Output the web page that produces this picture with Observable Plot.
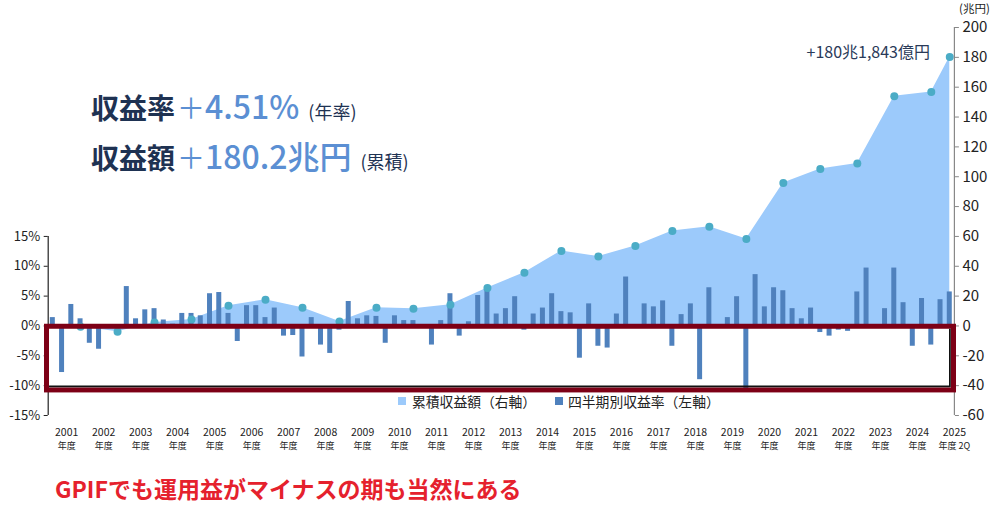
<!DOCTYPE html>
<html><head><meta charset="utf-8">
<script src="https://cdn.jsdelivr.net/npm/d3@7"></script>
<script src="https://cdn.jsdelivr.net/npm/@observablehq/plot@0.6"></script>
<style>
html,body{margin:0;padding:0;background:#fff;}
#wrap{position:relative;width:1000px;height:519px;overflow:hidden;font-family:"Noto Sans CJK JP","Noto Sans",sans-serif;}
#wrap svg{position:absolute;left:0;top:0;}
.t{position:absolute;white-space:nowrap;line-height:1.2;}
.sq{position:absolute;width:8px;height:8px;}
</style></head><body>
<div id="wrap">
  <div class="t" style="left:91px;top:86px;color:#1e3252;">
    <span style="font-size:28px;font-weight:700;">収益率</span><span style="font-size:28px;color:#5b8fd3;margin-left:2px;">＋</span><span style="font-size:32px;font-weight:500;color:#5b8fd3;">4.51%</span><span style="font-size:18px;margin-left:9px;">(年率)</span>
  </div>
  <div class="t" style="left:91px;top:136px;color:#1e3252;">
    <span style="font-size:28px;font-weight:700;">収益額</span><span style="font-size:28px;color:#5b8fd3;margin-left:2px;">＋</span><span style="font-size:32px;font-weight:500;color:#5b8fd3;">180.2兆円</span><span style="font-size:18px;margin-left:9px;">(累積)</span>
  </div>
  <div class="t" style="right:70px;top:42px;font-size:16px;color:#2a3a58;">+180兆1,843億円</div>
  <div class="t" style="left:959px;top:3px;font-size:11.5px;line-height:1;color:#222;">(兆円)</div>
  <div class="sq" style="left:398px;top:397px;background:#9ccafb;"></div>
  <div class="t" style="left:412px;top:393px;font-size:13.8px;color:#222;">累積収益額（右軸）</div>
  <div class="sq" style="left:555px;top:397px;background:#4f81bd;"></div>
  <div class="t" style="left:568px;top:393px;font-size:13.8px;color:#222;">四半期別収益率（左軸）</div>
  <div class="t" style="left:55px;top:475px;font-size:23px;font-weight:700;color:#e5212d;">GPIFでも運用益がマイナスの期も当然にある</div>
</div>
<script>
// ---- data ----
const fiscalYears = ["2001","2002","2003","2004","2005","2006","2007","2008","2009","2010","2011","2012","2013","2014","2015","2016","2017","2018","2019","2020","2021","2022","2023","2024","2025"];
const yearUnit = "年度";
const lastPeriodNote = "2Q";
// quarterly return (%), FY2001 Q1 ... FY2025 Q2
const quarterlyReturns = [
  1.4, -7.8, 3.6, 1.2,
  -2.9, -3.9, -0.3, -0.5,
  6.6, 1.2, 2.7, 2.9,
  1.0, 0.3, 2.1, 2.1,
  1.7, 5.4, 5.6, 2.1,
  -2.6, 3.4, 3.4, 1.4,
  3.0, -1.7, -1.6, -5.2,
  1.4, -3.2, -4.6, -0.7,
  4.1, 1.2, 1.7, 1.6,
  -2.9, 1.7, 0.9, 0.9,
  0.1, -3.2, 0.9, 5.4,
  -1.7, 0.7, 5.1, 6.2,
  2.0, 2.9, 4.9, -0.7,
  2.0, 3.0, 5.4, 2.4,
  2.2, -5.4, 3.7, -3.4,
  -3.7, 2.0, 8.2, 0.2,
  3.7, 3.2, 4.2, -3.4,
  1.9, 3.7, -9.0, 6.4,
  0.1, 1.4, 4.9, -10.6,
  8.6, 3.2, 6.4, 5.9,
  2.9, 1.2, 3.0, -1.1,
  -1.7, -0.7, -0.9, 5.7,
  9.7, 0.2, 2.9, 9.7,
  3.9, -3.4, 4.6, -3.2,
  4.4, 5.7
];
// cumulative return (兆円) at each fiscal year end (FY2025: 2Q)
const cumulativeReturns = [-0.6, -3.9, 2.3, 4.4, 13.5, 17.5, 12.2, 3.0, 12.2, 11.5, 14.2, 25.5, 35.6, 50.3, 46.5, 53.6, 63.7, 66.4, 58.3, 95.8, 105.1, 108.9, 154.0, 156.7, 180.18];
const rightTicks = [-60,-40,-20,0,20,40,60,80,100,120,140,160,180,200];
const leftTicksPct = [-15,-10,-5,0,5,10,15];
const pctToTrillion = 4;           // 5% on the left axis = 20兆円 on the right axis
const highlightFloorPct = -10.8;   // lower edge of the highlighted negative zone

// ---- derived tables ----
const nQ = quarterlyReturns.length;
const bars = quarterlyReturns.map((v, i) => ({i, v}));
const cum = cumulativeReturns.map((v, k) => ({i: Math.min(4 * k + 3, nQ - 1), v}));
const yearCenters = fiscalYears.map((y, k) => 4 * k + 1.5);
const xDomain = [-0.5, nQ - 0.5];

const font = '"Noto Sans CJK JP","Noto Sans",sans-serif';
const plot = Plot.plot({
  width: 1000,
  height: 519,
  marginTop: 27,
  marginBottom: 104,
  marginLeft: 47.7,
  marginRight: 46.1,
  style: {fontFamily: font, background: "transparent", color: "#222"},
  x: {type: "linear", domain: xDomain, label: null},
  y: {domain: [rightTicks[0], rightTicks[rightTicks.length - 1]], label: null},
  marks: [
    Plot.areaY(cum, {x: "i", y: "v", fill: "#9ccafb"}),
    Plot.rectY(bars, {x1: d => d.i - 0.27, x2: d => d.i + 0.27, y1: 0, y2: d => d.v * pctToTrillion, fill: "#4f81bd"}),
    Plot.dot(cum, {x: "i", y: "v", r: 4, fill: "#4bacc6", stroke: "none"}),
    // left axis (percent)
    Plot.ruleX([xDomain[0]], {y1: leftTicksPct[0] * pctToTrillion, y2: leftTicksPct[leftTicksPct.length - 1] * pctToTrillion, stroke: "#222", strokeWidth: 1.2}),
    Plot.axisY({anchor: "left", label: null, ticks: leftTicksPct.map(p => p * pctToTrillion), tickFormat: d => (d / pctToTrillion) + "%", tickSize: 4, tickPadding: 4, fontSize: 13, stroke: "#222", fill: "#222"}),
    // right axis (兆円)
    Plot.ruleX([xDomain[1]], {y1: rightTicks[0], y2: rightTicks[rightTicks.length - 1], stroke: "#888", strokeWidth: 1.2}),
    Plot.axisY({anchor: "right", label: null, ticks: rightTicks, tickFormat: d => String(d), tickSize: 4, tickPadding: 4, fontSize: 15, stroke: "#888", fill: "#222"}),
    // x axis: year + 年度
    Plot.axisX({label: null, ticks: yearCenters, tickFormat: (t) => fiscalYears[Math.round((t - 1.5) / 4)], tickSize: 0, tickPadding: 13, fontSize: 10.5, fill: "#222"}),
    Plot.axisX({label: null, ticks: yearCenters, tickFormat: (t) => { const k = Math.round((t - 1.5) / 4); return k === fiscalYears.length - 1 ? yearUnit + " " + lastPeriodNote : yearUnit; }, tickSize: 0, tickPadding: 27, fontSize: 9, fill: "#222"})
  ]
});
const wrap = document.getElementById("wrap");
wrap.insertBefore(plot, wrap.firstChild);

// highlight box over the negative zone
const xs = plot.scale("x"), ys = plot.scale("y");
const svg = d3.select(plot);
const X0 = xs.apply(xDomain[0]) - 1.2, X1 = xs.apply(xDomain[1]) - 0.4;
const Y0 = ys.apply(0) + 0.8, Y1 = ys.apply(highlightFloorPct * pctToTrillion);
svg.append("rect").attr("x", X0).attr("y", Y0).attr("width", X1 - X0).attr("height", Y1 - Y0)
  .attr("fill", "none").attr("stroke", "#7d0016").attr("stroke-width", 5);
svg.append("path").attr("d", `M${X0 + 2.5},${Y1 - 3.6}H${X1 - 3.6}V${Y0 + 2.5}`)
  .attr("fill", "none").attr("stroke", "#111").attr("stroke-width", 1.8);
</script>
</body></html>
